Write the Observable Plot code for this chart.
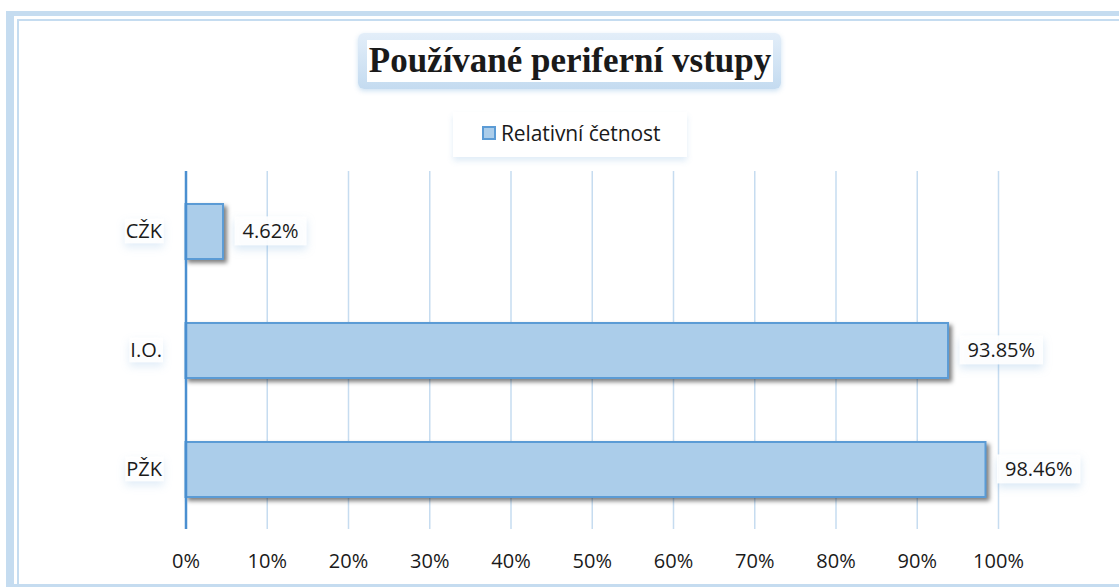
<!DOCTYPE html>
<html>
<head>
<meta charset="utf-8">
<script src="https://cdn.jsdelivr.net/npm/d3@7"></script>
<script src="https://cdn.jsdelivr.net/npm/@observablehq/plot@0.6"></script>
<style>
  html, body { margin: 0; padding: 0; background: #fff; }
  #page { position: relative; width: 1119px; height: 587px; overflow: hidden; background: #fff; }
  .abs { position: absolute; }
  #title { left: 358px; top: 33px; width: 423px; height: 56px; border-radius: 6px;
    background: linear-gradient(#e3eef9, #c4dbf0); box-shadow: 0 2px 5px rgba(91,155,213,0.3); }
  #titleInner { position: absolute; left: 9px; top: 7px; right: 8px; bottom: 7px; background: #fff;
    font-family: "Liberation Serif", "Times New Roman", serif; font-weight: bold; font-size: 35px;
    color: #1a1a1a; text-align: center; line-height: 42px; white-space: nowrap; }
  #legend { left: 453px; top: 112px; width: 234px; height: 45px; background: #fff;
    box-shadow: 0 4px 6px rgba(91,155,213,0.18); font-family: "Open Sans", sans-serif; font-size: 21px;
    color: #1a1a1a; }
  #swatch { position: absolute; left: 29px; top: 14px; width: 10px; height: 10px; background: #abcdea;
    border: 2px solid #5b9bd5; }
  #legendText { position: absolute; left: 48px; top: 7px; white-space: nowrap; letter-spacing: -0.1px; }
  #chart { left: 0; top: 140px; }
</style>
</head>
<body>
<div id="page">
  <div id="chart" class="abs"></div>
  <div class="abs" style="left:6px;top:11px;width:1300px;height:700px;border-left:8px solid #c5dcf0;border-top:5px solid #c5dcf0;"></div>
  <div class="abs" style="left:17px;top:19px;width:1300px;height:700px;border-left:2px solid #c5dcf0;border-top:2px solid #c5dcf0;"></div>
  <div class="abs" style="left:6px;top:584px;width:1300px;height:4px;background:#c5dcf0;"></div>
  <div id="title" class="abs"><div id="titleInner">Používané periferní vstupy</div></div>
  <div id="legend" class="abs"><div id="swatch"></div><div id="legendText">Relativní četnost</div></div>
</div>
<script>
const categories = ["CŽK", "I.O.", "PŽK"];
const values = [0.0462, 0.9385, 0.9846];
const xTicks = [0, 0.1, 0.2, 0.3, 0.4, 0.5, 0.6, 0.7, 0.8, 0.9, 1.0];
const seriesName = "Relativní četnost";

const data = categories.map((c, i) => ({cat: c, value: values[i], series: seriesName}));

const chart = Plot.plot({
  width: 1119,
  height: 440,
  marginLeft: 185.5,
  marginRight: 121,
  marginTop: 31,
  marginBottom: 51,
  style: {fontFamily: "Open Sans, sans-serif", fontSize: "20px", color: "#1a1a1a", background: "transparent", overflow: "visible"},
  x: {domain: [0, 1], ticks: xTicks, tickFormat: d3.format(".0%"), tickSize: 0, tickPadding: 24, label: null},
  y: {domain: categories, paddingInner: 0.54, paddingOuter: 0.27, tickSize: 0, tickPadding: 24, label: null},
  marks: [
    Plot.ruleX(xTicks.filter(d => d > 0), {stroke: "#c6dcf0", strokeWidth: 1.5}),
    Plot.barX(data, {x: "value", y: "cat", fill: "#abcdea", stroke: "#5b9bd5", strokeWidth: 2}),
    Plot.ruleX([0], {stroke: "#4a8fd0", strokeWidth: 2.5}),
    Plot.text(data, {x: "value", y: "cat", text: d => d3.format(".2%")(d.value), dx: 19, textAnchor: "start", fill: "#1a1a1a", fontSize: 20})
  ]
});

document.getElementById("chart").appendChild(chart);
const svg = d3.select(chart);

// bar shadow
svg.selectAll("g[aria-label='bar']").style("filter", "drop-shadow(3px 3px 2px rgba(0,0,0,0.5))");

// label background boxes
function boxes(sel, padX, padY, shadow) {
  sel.each(function() {
    const t = this;
    const b = t.getBBox();
    const r = document.createElementNS("http://www.w3.org/2000/svg", "rect");
    r.setAttribute("x", b.x - padX);
    r.setAttribute("y", b.y - padY);
    r.setAttribute("width", b.width + 2 * padX);
    r.setAttribute("height", b.height + 2 * padY);
    r.setAttribute("fill", "rgba(255,255,255,0.92)");
    r.setAttribute("style", "filter: " + shadow);
    if (t.getAttribute("transform")) r.setAttribute("transform", t.getAttribute("transform"));
    t.parentNode.insertBefore(r, t);
  });
}
boxes(svg.selectAll("g[aria-label='text'] text"), 8, 1, "drop-shadow(0px 4px 4px rgba(91,155,213,0.25))");
boxes(svg.selectAll("g[aria-label='y-axis tick label'] text"), 1, -1, "drop-shadow(0px 4px 4px rgba(91,155,213,0.2))");
</script>
</body>
</html>
